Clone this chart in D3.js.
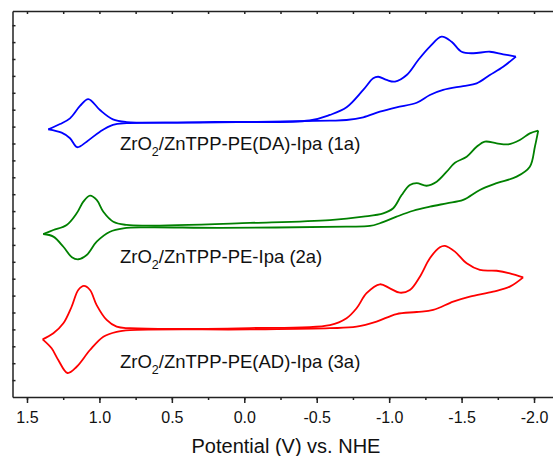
<!DOCTYPE html>
<html>
<head>
<meta charset="utf-8">
<style>
  body { margin: 0; background: #fff; }
  svg text { font-family: "Liberation Sans", Arial, sans-serif; fill: #111; }
  .axis path, .axis line { stroke: #222; stroke-width: 1.5; }
  .trace { fill: none; stroke-width: 1.8; stroke-linejoin: round; }
</style>
<script src="https://cdn.jsdelivr.net/npm/d3@7"></script>
</head>
<body>
<script>
// tick labels along the potential axis (reversed: positive on the left)
var tickValues = [1.5, 1.0, 0.5, 0.0, -0.5, -1.0, -1.5, -2.0];
var tickLabels = ["1.5", "1.0", "0.5", "0.0", "-0.5", "-1.0", "-1.5", "-2.0"];

// [E (V vs NHE), current (arb. units)]
var blueForward = [[1.353,15.84],[1.272,16.15],[1.203,16.49],[1.134,17.22],[1.077,17.63],[0.996,16.98],[0.907,16.43],
  [0.812,16.27],[0.2,16.28],[-0.45,16.36],[-0.591,16.69],[-0.706,17.14],[-0.821,18.17],[-0.890,18.86],
  [-0.925,18.95],[-0.982,18.76],[-1.040,18.66],[-1.121,19.05],[-1.201,19.94],[-1.281,20.73],[-1.362,21.32],
  [-1.431,21.02],[-1.500,20.43],[-1.580,20.34],[-1.695,20.43],[-1.787,20.28],[-1.875,20.14]];
var blueReverse = [[-1.875,20.14],[-1.787,19.54],[-1.695,19.05],[-1.604,18.56],[-1.511,18.40],[-1.373,18.17],
  [-1.281,17.87],[-1.190,17.41],[-1.051,17.14],[-0.936,16.88],[-0.821,16.55],[-0.706,16.39],[-0.591,16.35],
  [0.306,16.24],[0.812,16.20],[0.907,16.10],[0.996,15.70],[1.088,15.11],[1.153,14.78],[1.203,15.31],[1.261,15.64],[1.353,15.84]];

var greenForward = [[1.388,9.645],[1.318,9.88],[1.226,10.18],[1.157,10.87],[1.111,11.56],[1.065,11.91],[1.019,11.66],
  [0.973,10.96],[0.904,10.37],[0.812,10.18],[0.674,10.14],[-0.039,10.30],[-0.591,10.47],[-0.821,10.67],[-0.959,10.87],
  [-1.028,11.17],[-1.086,11.95],[-1.143,12.54],[-1.190,12.65],[-1.259,12.50],[-1.328,12.74],[-1.397,13.33],
  [-1.454,13.86],[-1.535,14.22],[-1.604,14.81],[-1.661,15.11],[-1.742,15.01],[-1.822,14.95],[-1.902,15.21],
  [-1.971,15.60],[-2.029,15.76]];
var greenReverse = [[-2.029,15.76],[-2.006,14.81],[-1.971,13.63],[-1.880,13.04],[-1.742,12.65],[-1.626,12.25],
  [-1.511,11.66],[-1.397,11.46],[-1.281,11.26],[-1.166,11.02],[-1.051,10.67],[-0.936,10.28],[-0.867,10.12],
  [-0.706,10.08],[0.168,10.01],[0.674,10.04],[0.835,9.98],[0.927,9.78],[1.019,9.19],[1.088,8.40],[1.145,8.15],
  [1.190,8.27],[1.249,8.89],[1.318,9.49],[1.388,9.645]];

var redForward = [[1.392,3.41],[1.318,3.77],[1.249,4.36],[1.192,5.34],[1.146,6.33],[1.107,6.57],[1.065,6.33],
  [1.019,5.44],[0.950,4.56],[0.881,4.16],[0.789,4.07],[-0.039,4.08],[-0.591,4.26],[-0.706,4.66],[-0.775,5.25],
  [-0.844,6.14],[-0.936,6.67],[-1.005,6.43],[-1.074,6.17],[-1.143,6.33],[-1.212,7.12],[-1.281,8.21],[-1.350,8.86],
  [-1.385,8.94],[-1.454,8.60],[-1.535,7.91],[-1.626,7.52],[-1.742,7.47],[-1.833,7.32],[-1.925,7.08]];
var redReverse = [[-1.925,7.08],[-1.833,6.53],[-1.718,6.23],[-1.557,5.94],[-1.442,5.64],[-1.304,5.15],[-1.190,5.03],
  [-1.051,4.91],[-0.913,4.46],[-0.775,4.16],[-0.591,4.07],[-0.039,4.00],[0.789,3.96],[0.881,3.86],[0.973,3.57],
  [1.065,2.78],[1.157,1.79],[1.220,1.42],[1.284,2.19],[1.330,2.88],[1.392,3.41]];

var sampleNames = ["/ZnTPP-PE(DA)-Ipa (1a)", "/ZnTPP-PE-Ipa (2a)", "/ZnTPP-PE(AD)-Ipa (3a)"];
var axisTitle = "Potential (V) vs. NHE";

var width = 553, height = 456;
var svg = d3.select("body").append("svg")
    .attr("width", width)
    .attr("height", height);

var x = d3.scaleLinear().domain([1.6, -2.2]).range([12.5, 563]);
var y = d3.scaleLinear().domain([0, 22.84]).range([397, 11]);

// traces
var line = d3.line()
    .x(d => x(d[0]))
    .y(d => y(d[1]))
    .curve(d3.curveCatmullRom.alpha(0.5));

var traces = [
  {data: blueForward, color: "#0000ff"}, {data: blueReverse, color: "#0000ff"},
  {data: greenForward, color: "#008000"}, {data: greenReverse, color: "#008000"},
  {data: redForward, color: "#ff0000"}, {data: redReverse, color: "#ff0000"}
];
svg.selectAll(".trace")
    .data(traces)
  .enter().append("path")
    .attr("class", "trace")
    .attr("d", d => line(d.data))
    .attr("stroke", d => d.color);

// bottom axis: majors labelled, minors short
svg.append("g")
    .attr("class", "axis")
    .attr("transform", `translate(0,${y(0)})`)
    .call(d3.axisBottom(x).tickValues(d3.range(1.5, -2.3, -0.25)).tickSize(3).tickFormat("").tickSizeOuter(0));
var xAxis = svg.append("g")
    .attr("class", "axis")
    .attr("transform", `translate(0,${y(0)})`)
    .call(d3.axisBottom(x).tickValues(tickValues).tickSize(6).tickSizeOuter(0).tickPadding(9)
      .tickFormat((d, i) => tickLabels[i]));
xAxis.selectAll("text").style("font-size", "16px").attr("fill", "#111");
xAxis.select(".domain").remove();

// top border with inward ticks
svg.append("g")
    .attr("class", "axis")
    .attr("transform", `translate(0,${y(22.84)})`)
    .call(d3.axisTop(x).tickValues(d3.range(1.5, -2.3, -0.25)).tickSize(-3).tickFormat("").tickSizeOuter(0));

// left border with inward ticks, no labels
svg.append("g")
    .attr("class", "axis")
    .attr("transform", `translate(${x(1.6)},0)`)
    .call(d3.axisLeft(y).tickValues(d3.range(1, 23)).tickSize(-3).tickFormat("").tickSizeOuter(0));

// sample labels
var labelPos = [[120, 150], [120, 263], [120, 368]];
sampleNames.forEach(function(name, i) {
  var t = svg.append("text")
      .attr("x", labelPos[i][0])
      .attr("y", labelPos[i][1])
      .style("font-size", "18.5px");
  t.append("tspan").text("ZrO");
  t.append("tspan").attr("dy", 6).style("font-size", "12.5px").text("2");
  t.append("tspan").attr("dy", -6).text(name);
});

svg.append("text")
    .attr("x", 286)
    .attr("y", 453)
    .attr("text-anchor", "middle")
    .style("font-size", "20px")
    .text(axisTitle);
</script>
</body>
</html>
